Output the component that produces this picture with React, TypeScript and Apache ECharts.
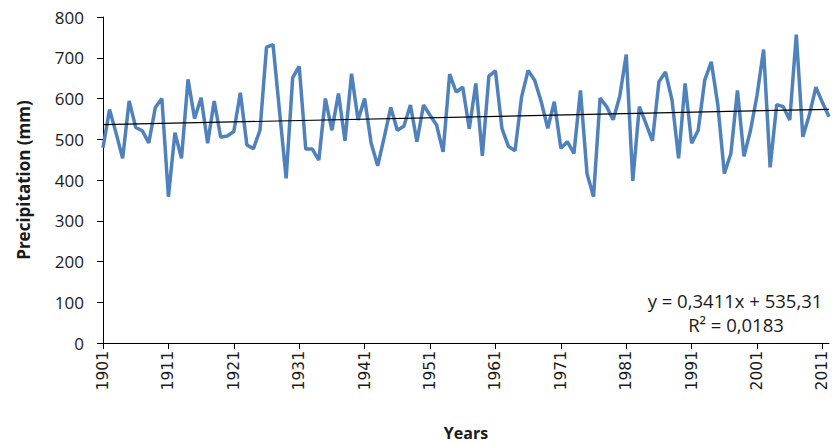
import React, { useEffect, useRef } from "react";
import * as echarts from "echarts";

const years: string[] = Array.from({ length: 112 }, (_, i) => String(1901 + i));

const precipitation: number[] = [
  479, 573, 515, 453, 594, 529, 521, 491, 578, 600,
  359, 516, 453, 647, 551, 602, 490, 594, 505, 508,
  519, 614, 486, 477, 522, 726, 732, 567, 404, 651,
  679, 476, 476, 449, 600, 522, 612, 496, 661, 547,
  600, 490, 435, 505, 578, 522, 532, 584, 494, 584,
  559, 535, 469, 660, 616, 628, 526, 637, 459, 655,
  668, 526, 482, 472, 604, 669, 645, 592, 527, 592,
  478, 494, 465, 620, 416, 359, 601, 580, 548, 605,
  708, 398, 580, 539, 496, 641, 665, 596, 453, 637,
  490, 522, 645, 690, 585, 416, 465, 620, 458, 522,
  608, 720, 431, 585, 580, 547, 757, 506, 560, 628,
  590, 555,
];

const trendSlope = 0.3411;
const trendIntercept = 535.31;
const equationText = "y = 0,3411x + 535,31";
const r2Text = "R² = 0,0183";

export default function App() {
  const ref = useRef<HTMLDivElement>(null);
  useEffect(() => {
    if (!ref.current) return;
    const chart = echarts.init(ref.current, undefined, { renderer: "svg" });
    const n = years.length;
    chart.setOption({
      animation: false,
      grid: { left: 103, right: 3, top: 17, bottom: 100, containLabel: false, outerBoundsMode: "none" },
      xAxis: {
        type: "category",
        data: years,
        boundaryGap: false,
        name: "Years",
        nameLocation: "middle",
        nameGap: 81,
        nameTextStyle: { fontFamily: "Open Sans", fontWeight: "bold", fontSize: 16, lineHeight: 17, color: "#1a1a1a" },
        axisLine: { lineStyle: { color: "#000", width: 1 } },
        axisTick: { show: true, length: 6, interval: (i: number) => i % 10 === 0, lineStyle: { color: "#000" } },
        axisLabel: {
          interval: (i: number) => i % 10 === 0,
          rotate: 90,
          margin: 8,
          fontFamily: "DejaVu Sans",
          fontSize: 15.5,
          lineHeight: 16,
          color: "#1a1a1a",
        },
        splitLine: { show: false },
      },
      yAxis: {
        type: "value",
        min: 0,
        max: 800,
        interval: 100,
        name: "Precipitation (mm)",
        nameLocation: "middle",
        nameGap: 71,
        nameTextStyle: { fontFamily: "Open Sans", fontWeight: "bold", fontSize: 17, color: "#1a1a1a" },
        axisLine: { show: true, lineStyle: { color: "#000", width: 1 } },
        axisTick: { show: true, length: 6, lineStyle: { color: "#000" } },
        axisLabel: { margin: 19, fontFamily: "Open Sans", fontSize: 17, color: "#1a1a1a" },
        splitLine: { show: false },
      },
      series: [
        {
          type: "line",
          data: precipitation,
          symbol: "none",
          lineStyle: { color: "#4F81BD", width: 3.5 },
          itemStyle: { color: "#4F81BD" },
          markLine: {
            silent: true,
            symbol: "none",
            label: { show: false },
            lineStyle: { color: "#000", width: 1.2, type: "solid" },
            data: [
              [
                { coord: [years[0], trendIntercept + trendSlope * 1] },
                { coord: [years[n - 1], trendIntercept + trendSlope * n] },
              ],
            ],
          },
        },
      ],
      graphic: [
        {
          type: "text",
          x: 735,
          y: 300,
          style: { text: equationText, fontFamily: "Open Sans", fontSize: 18.5, fill: "#1a1a1a", textAlign: "center", textVerticalAlign: "middle" },
        },
        {
          type: "text",
          x: 736,
          y: 324,
          style: { text: r2Text, fontFamily: "Open Sans", fontSize: 18.5, fill: "#1a1a1a", textAlign: "center", textVerticalAlign: "middle" },
        },
      ],
    });
    return () => chart.dispose();
  }, []);
  return <div ref={ref} style={{ position: "absolute", left: 0, top: 0, width: 832, height: 443 }} />;
}
